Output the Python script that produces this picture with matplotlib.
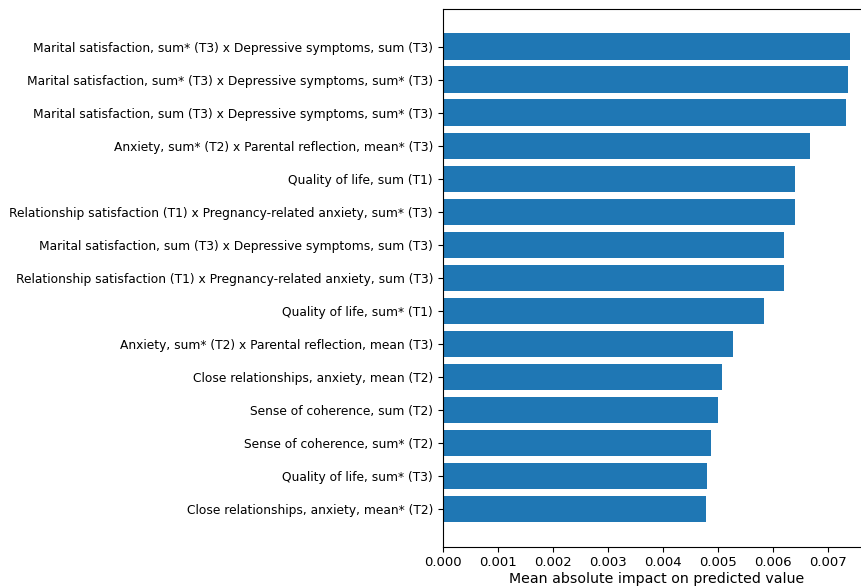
import matplotlib
matplotlib.use("Agg")
import matplotlib.pyplot as plt

# Features ordered from most to least important
features = [
    "Marital satisfaction, sum* (T3) x Depressive symptoms, sum (T3)",
    "Marital satisfaction, sum* (T3) x Depressive symptoms, sum* (T3)",
    "Marital satisfaction, sum (T3) x Depressive symptoms, sum* (T3)",
    "Anxiety, sum* (T2) x Parental reflection, mean* (T3)",
    "Quality of life, sum (T1)",
    "Relationship satisfaction (T1) x Pregnancy-related anxiety, sum* (T3)",
    "Marital satisfaction, sum (T3) x Depressive symptoms, sum (T3)",
    "Relationship satisfaction (T1) x Pregnancy-related anxiety, sum (T3)",
    "Quality of life, sum* (T1)",
    "Anxiety, sum* (T2) x Parental reflection, mean (T3)",
    "Close relationships, anxiety, mean (T2)",
    "Sense of coherence, sum (T2)",
    "Sense of coherence, sum* (T2)",
    "Quality of life, sum* (T3)",
    "Close relationships, anxiety, mean* (T2)",
]
impact = [
    0.00741, 0.00737, 0.00733, 0.00668, 0.00640,
    0.00640, 0.00621, 0.00621, 0.00584, 0.00527,
    0.00507, 0.00501, 0.00487, 0.00481, 0.00478,
]
xticks = [0.000, 0.001, 0.002, 0.003, 0.004, 0.005, 0.006, 0.007]

fig = plt.figure(figsize=(8.61, 5.88), dpi=100)
ax = fig.add_axes([0.5142, 0.0702, 0.497, 0.9145])

# Plot bottom-up so the largest value sits at the top
ax.barh(features[::-1], impact[::-1], color="#1f77b4", height=0.8)
ax.set_xticks(xticks)
ax.set_xticklabels([f"{t:.3f}" for t in xticks])
ax.tick_params(axis="y", labelsize=8.8)
ax.tick_params(axis="x", labelsize=9.5)
ax.set_xlabel("Mean absolute impact on predicted value", fontsize=10.2, labelpad=2)

fig.savefig("out.png", dpi=100)
